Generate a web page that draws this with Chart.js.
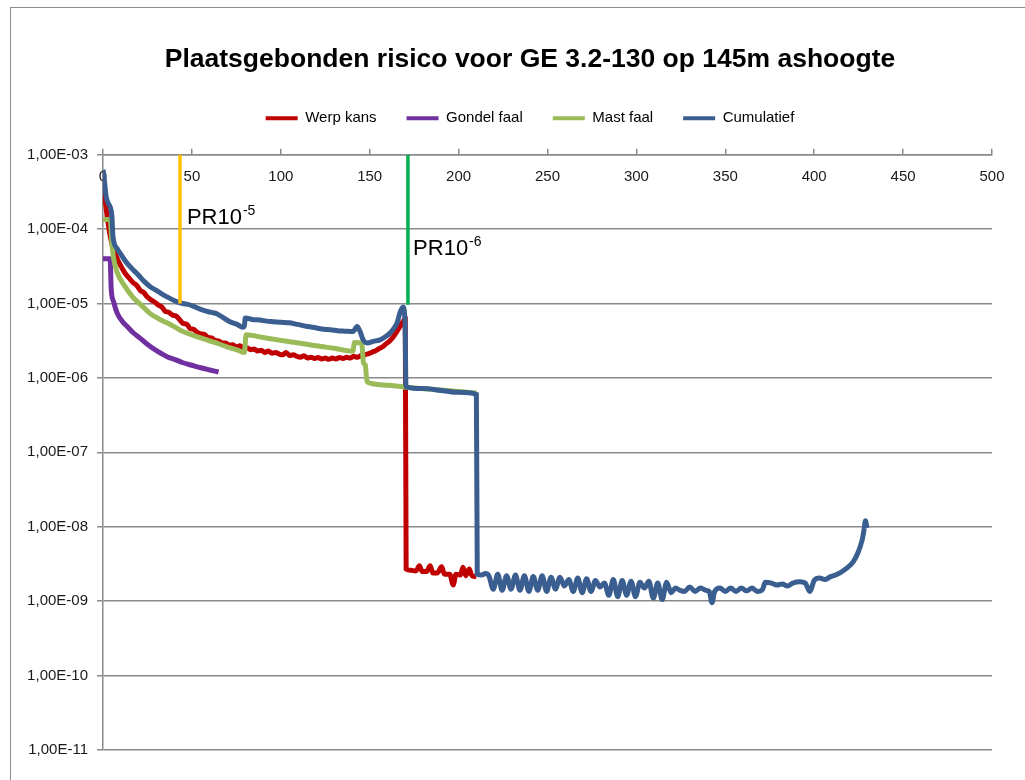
<!DOCTYPE html>
<html>
<head>
<meta charset="utf-8">
<title>Plaatsgebonden risico</title>
<script src="https://cdn.jsdelivr.net/npm/chart.js@4/dist/chart.umd.min.js"></script>
<style>
    body { margin: 0; background: #fff; overflow: hidden; }
    #frame {
        position: absolute; left: 10px; top: 7px; width: 1100px; height: 900px;
        border-left: 1.5px solid #8c8c8c; border-top: 1.5px solid #8c8c8c;
    }
    #chart { position: absolute; left: 0; top: 0; }
</style>
</head>
<body>
<div id="frame"></div>
<canvas id="chart" width="1060" height="780"></canvas>
<script>
// afstand (m) en kans per serie
const werpX = [0, 1, 2, 3, 4, 5, 6, 8, 10, 12, 14, 17, 19, 21, 23, 25, 27, 29, 31, 33, 35, 37, 39, 41, 43, 45, 47, 49,
    51, 53, 55, 57, 59, 61, 63, 65, 67, 69, 71, 73, 75, 77, 79, 81, 83, 85, 87, 89, 91, 93, 95, 97, 99, 101, 103, 105,
    107, 109, 111, 113, 115, 117, 119, 121, 123, 125, 127, 129, 131, 133, 135, 137, 139, 141, 143, 145, 147, 149, 151,
    153, 155, 157, 159, 161, 163, 165, 167, 168.5, 170, 170.5, 173, 176, 178, 179.5, 182, 184, 185.5, 188, 190.5, 192,
    195, 197, 198.5, 201, 202.5, 204, 206, 207.5, 210];
const werpY = [4.0e-4, 2.7e-4, 1.7e-4, 1.15e-4, 8.2e-5, 6.4e-5, 5.4e-5, 4.0e-5, 3.2e-5, 2.65e-5, 2.3e-5, 1.9e-5, 1.75e-5,
    1.5e-5, 1.4e-5, 1.22e-5, 1.12e-5, 1.05e-5, 9.6e-6, 9.0e-6, 7.9e-6, 7.6e-6, 7.0e-6, 6.8e-6, 6.1e-6, 5.4e-6, 5.3e-6,
    4.6e-6, 4.5e-6, 4.1e-6, 3.9e-6, 3.85e-6, 3.5e-6, 3.45e-6, 3.2e-6, 3.15e-6, 2.95e-6, 2.95e-6, 2.75e-6, 2.8e-6, 2.6e-6,
    2.7e-6, 2.5e-6, 2.55e-6, 2.4e-6, 2.45e-6, 2.3e-6, 2.35e-6, 2.2e-6, 2.3e-6, 2.15e-6, 2.2e-6, 2.1e-6, 2.05e-6, 2.2e-6,
    2.0e-6, 2.05e-6, 1.95e-6, 1.9e-6, 1.98e-6, 1.85e-6, 1.9e-6, 1.82e-6, 1.88e-6, 1.8e-6, 1.85e-6, 1.78e-6, 1.86e-6,
    1.8e-6, 1.88e-6, 1.82e-6, 1.9e-6, 1.85e-6, 1.95e-6, 1.9e-6, 2.0e-6, 2.05e-6, 2.1e-6, 2.2e-6, 2.3e-6, 2.45e-6, 2.6e-6,
    2.85e-6, 3.1e-6, 3.5e-6, 4.1e-6, 4.9e-6, 5.6e-6, 6.2e-6, 2.7e-9, 2.6e-9, 2.55e-9, 3.0e-9, 2.5e-9, 2.5e-9, 3.0e-9,
    2.4e-9, 2.4e-9, 2.9e-9, 2.3e-9, 2.3e-9, 1.65e-9, 2.3e-9, 2.25e-9, 2.85e-9, 2.2e-9, 2.7e-9, 2.2e-9, 2.15e-9];

const gondelX = [0, 4, 4.6, 6, 8, 11, 14, 17, 21, 26, 31, 36, 41, 45, 50, 55, 60, 65];
const gondelY = [4.0e-5, 4.0e-5, 1.6e-5, 1.05e-5, 7.4e-6, 5.7e-6, 4.8e-6, 4.05e-6, 3.4e-6, 2.7e-6, 2.25e-6, 1.93e-6,
    1.75e-6, 1.6e-6, 1.48e-6, 1.37e-6, 1.28e-6, 1.2e-6];

const mastX = [0, 4, 5, 6, 8, 12, 17, 22, 26, 31, 36, 40, 45, 50, 55, 60, 65, 70, 75, 79.5, 80.5, 90, 100, 110, 120, 130,
    140.5, 141.5, 145.5, 146.5, 147.5, 148.5, 160, 170, 190, 210];
const mastY = [1.35e-4, 1.35e-4, 6.5e-5, 4.0e-5, 2.6e-5, 1.75e-5, 1.2e-5, 9.3e-6, 7.5e-6, 6.3e-6, 5.5e-6, 4.9e-6, 4.2e-6,
    3.8e-6, 3.45e-6, 3.15e-6, 2.88e-6, 2.6e-6, 2.4e-6, 2.2e-6, 3.8e-6, 3.5e-6, 3.2e-6, 2.95e-6, 2.7e-6, 2.5e-6, 2.3e-6,
    3.0e-6, 2.95e-6, 1.6e-6, 1.5e-6, 8.8e-7, 8.0e-7, 7.5e-7, 6.9e-7, 6.3e-7];

const cumX = [0, 0.6, 1.7, 3, 4, 5, 5.6, 7.9, 10, 13, 16.9, 20, 23, 26.4, 30, 33, 36, 40, 43.3, 47, 50, 54.6, 58, 61, 64,
    67, 71.4, 75, 78.7, 79.5, 80, 84, 88.3, 92, 96, 100, 105, 110, 115, 120, 124, 128, 132, 136, 140.6, 142.9, 144.6,
    146.2, 148.5, 152, 155.8, 159, 161.4, 163.5, 165.4, 167, 168.7, 169.9, 170.4, 180, 190, 200, 210,
    210.5, 213, 215, 217, 219.5, 222, 224.5, 227, 229.5, 232, 234.5, 237, 239.5, 242, 244.5, 247, 249.5, 252, 254.5,
    257, 259.5, 262, 264.5, 267, 269.5, 272, 274.5, 277, 279.5, 282, 284.5, 287, 289.5, 292, 294.5, 297, 299.5, 302,
    304.5, 307, 309.5, 312, 314.5, 317, 319.5, 322, 324.5, 327, 330, 333, 336, 339, 341, 342.5, 344, 347, 350, 353, 356,
    359, 362, 365, 368, 371, 372.5, 376, 379, 382, 385, 388, 392, 395, 397.5, 400, 403, 406, 409, 412, 414.5, 418.5,
    422, 424.5, 427, 428, 428.8, 429.7];
const cumY = [6.3e-4, 5.0e-4, 2.8e-4, 2.2e-4, 2.0e-4, 1.5e-4, 8.0e-5, 5.5e-5, 4.6e-5, 3.6e-5, 2.85e-5, 2.4e-5, 2.0e-5,
    1.7e-5, 1.5e-5, 1.35e-5, 1.23e-5, 1.1e-5, 1.02e-5, 9.8e-6, 9.4e-6, 8.4e-6, 7.9e-6, 7.6e-6, 7.3e-6, 6.6e-6, 5.7e-6,
    5.3e-6, 4.8e-6, 5.0e-6, 6.4e-6, 6.1e-6, 6.0e-6, 5.8e-6, 5.7e-6, 5.6e-6, 5.5e-6, 5.2e-6, 4.9e-6, 4.7e-6, 4.5e-6,
    4.45e-6, 4.3e-6, 4.25e-6, 4.2e-6, 4.9e-6, 4.2e-6, 3.3e-6, 2.95e-6, 3.1e-6, 3.25e-6, 3.6e-6, 4.0e-6, 4.6e-6, 5.5e-6,
    7.5e-6, 9.0e-6, 5.5e-6, 7.6e-7, 7.2e-7, 6.8e-7, 6.4e-7, 6.0e-7,
    2.3e-9, 2.25e-9, 2.35e-9, 2.2e-9, 1.45e-9, 2.3e-9, 1.4e-9, 2.2e-9, 1.45e-9, 2.25e-9, 1.4e-9, 2.2e-9, 1.35e-9,
    2.15e-9, 1.4e-9, 2.2e-9, 1.35e-9, 2.1e-9, 1.45e-9, 2.1e-9, 1.6e-9, 1.95e-9, 1.35e-9, 2.05e-9, 1.3e-9, 2.0e-9,
    1.35e-9, 1.9e-9, 1.55e-9, 1.75e-9, 1.2e-9, 1.95e-9, 1.15e-9, 1.9e-9, 1.2e-9, 1.85e-9, 1.15e-9, 1.8e-9, 1.5e-9,
    1.85e-9, 1.1e-9, 1.75e-9, 1.05e-9, 1.8e-9, 1.3e-9, 1.5e-9, 1.4e-9, 1.35e-9, 1.55e-9, 1.35e-9, 1.5e-9, 1.4e-9,
    1.35e-9, 9.5e-10, 1.35e-9, 1.5e-9, 1.35e-9, 1.5e-9, 1.35e-9, 1.5e-9, 1.38e-9, 1.5e-9, 1.35e-9, 1.45e-9, 1.8e-9,
    1.75e-9, 1.65e-9, 1.7e-9, 1.6e-9, 1.75e-9, 1.82e-9, 1.75e-9, 1.35e-9, 1.9e-9, 2.05e-9, 1.95e-9, 2.12e-9, 2.25e-9,
    2.4e-9, 2.8e-9, 3.4e-9, 4.4e-9, 6.7e-9, 9.0e-9, 1.2e-8, 9.6e-9];

// PR-contouren: afstand, van/tot kans, label
const prX = [43.3, 171.5];
const prTop = [1e-3, 1e-3];
const prBottom = [1e-5, 9.6e-6];
const prSup = ["-5", "-6"];
const prLabelX = [47.2, 174.4];
const prLabelY = [1.18e-4, 4.5e-5];

const yTickValues = [1e-11, 1e-10, 1e-9, 1e-8, 1e-7, 1e-6, 1e-5, 1e-4, 1e-3];
const yTickLabels = ["1,00E-11", "1,00E-10", "1,00E-09", "1,00E-08", "1,00E-07", "1,00E-06", "1,00E-05", "1,00E-04", "1,00E-03"];

const seriesNames = ["Werp kans", "Gondel faal", "Mast faal", "Cumulatief"];
const seriesColors = ["#C00000", "#7030A0", "#9BBB59", "#3B5E91"];
const prColors = ["#FFC000", "#00B050"];

function toPoints(xs, ys) {
    return xs.map((x, i) => ({ x: x, y: ys[i] }));
}

const font = "'Liberation Sans', Arial, sans-serif";
Chart.defaults.font.family = font;
Chart.defaults.color = "#1a1a1a";

const seriesData = [toPoints(werpX, werpY), toPoints(gondelX, gondelY), toPoints(mastX, mastY), toPoints(cumX, cumY)];
const seriesOrder = [4, 3, 2, 1];

const datasets = seriesNames.map((name, i) => ({
    label: name,
    data: seriesData[i],
    borderColor: seriesColors[i],
    backgroundColor: seriesColors[i],
    borderWidth: 5,
    pointRadius: 0,
    cubicInterpolationMode: "monotone",
    order: seriesOrder[i]
}));

prX.forEach((x, i) => {
    datasets.push({
        label: "PR10" + prSup[i],
        data: [{ x: x, y: prTop[i] }, { x: x, y: prBottom[i] }],
        borderColor: prColors[i],
        backgroundColor: prColors[i],
        borderWidth: 3.5,
        pointRadius: 0,
        order: 0
    });
});

// x-labels staan onder de bovenste as, binnen het plotvlak (zoals in Excel)
const xLabelPlugin = {
    id: "xLabels",
    beforeDatasetsDraw(chart) {
        const ctx = chart.ctx;
        const xs = chart.scales.x;
        ctx.save();
        ctx.fillStyle = "#1a1a1a";
        ctx.font = "15px " + font;
        ctx.textAlign = "center";
        ctx.textBaseline = "middle";
        xs.ticks.forEach((t) => {
            ctx.fillText(String(t.value), xs.getPixelForValue(t.value), chart.chartArea.top + 22);
        });
        ctx.restore();
    }
};

// tekst PR10^-5 / PR10^-6 naast de lijnen
const prLabelPlugin = {
    id: "prLabels",
    afterDatasetsDraw(chart) {
        const ctx = chart.ctx;
        const xs = chart.scales.x;
        const ys = chart.scales.y;
        ctx.save();
        ctx.fillStyle = "#000";
        ctx.textBaseline = "alphabetic";
        ctx.textAlign = "left";
        prLabelX.forEach((lx, i) => {
            const px = xs.getPixelForValue(lx);
            const py = ys.getPixelForValue(prLabelY[i]);
            ctx.font = "22px " + font;
            ctx.fillText("PR10", px, py);
            const w = ctx.measureText("PR10").width;
            ctx.font = "14px " + font;
            ctx.fillText(prSup[i], px + w + 1, py - 9);
        });
        ctx.restore();
    }
};

new Chart(document.getElementById("chart"), {
    type: "line",
    data: { datasets: datasets },
    options: {
        responsive: false,
        animation: false,
        devicePixelRatio: 1,
        layout: { padding: { left: 0, right: 0, top: 0, bottom: 30 } },
        plugins: {
            title: {
                display: true,
                text: "Plaatsgebonden risico voor GE 3.2-130 op 145m ashoogte",
                color: "#000",
                font: { size: 26.5, weight: "bold" },
                padding: { top: 44, bottom: 5 }
            },
            legend: {
                position: "top",
                labels: {
                    boxWidth: 32,
                    boxHeight: 4,
                    padding: 30,
                    color: "#000",
                    font: { size: 15 },
                    filter: (item) => item.datasetIndex < seriesNames.length,
                    sort: (a, b) => a.datasetIndex - b.datasetIndex,
                    generateLabels(chart) {
                        const items = Chart.defaults.plugins.legend.labels.generateLabels(chart);
                        items.forEach((item) => { item.lineWidth = 0; });
                        return items;
                    }
                }
            },
            tooltip: { enabled: false }
        },
        scales: {
            x: {
                type: "linear",
                position: "top",
                min: 0,
                max: 500,
                ticks: { stepSize: 50, display: false },
                grid: { drawOnChartArea: false, drawTicks: true, tickLength: 6, color: "#8a8a8a", lineWidth: 1.5 },
                border: { color: "#8a8a8a", width: 1.5 },
                afterFit(scale) { scale.height = 18.9; }
            },
            y: {
                type: "logarithmic",
                position: "left",
                min: 1e-11,
                max: 1e-3,
                afterBuildTicks(scale) {
                    scale.ticks = yTickValues.map((v) => ({ value: v }));
                },
                ticks: {
                    padding: 9,
                    autoSkip: false,
                    font: { size: 15 },
                    callback: (v) => yTickLabels[yTickValues.indexOf(v)]
                },
                grid: { color: "#8a8a8a", lineWidth: 1.5, tickLength: 6 },
                border: { color: "#8a8a8a", width: 1.5 },
                afterFit(scale) { scale.width = 103; }
            },
            // lege as rechts: houdt ruimte vrij zodat titel en legenda gecentreerd blijven op het kader
            spacer: {
                type: "linear",
                position: "right",
                ticks: { display: false },
                grid: { display: false },
                border: { display: false },
                afterFit(scale) { scale.width = 68; }
            }
        }
    },
    plugins: [xLabelPlugin, prLabelPlugin]
});
</script>
</body>
</html>
